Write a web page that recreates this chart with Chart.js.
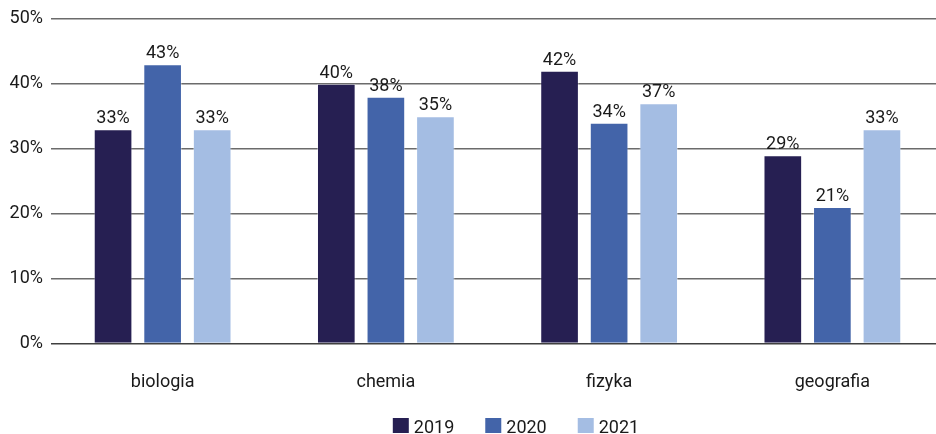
<!DOCTYPE html>
<html>
<head>
<meta charset="utf-8">
<script src="https://cdn.jsdelivr.net/npm/chart.js@4/dist/chart.umd.min.js"></script>
<style>
  html, body { margin: 0; padding: 0; background: #fff; overflow: hidden; }
  #wrap { width: 944px; height: 434px; }
</style>
</head>
<body>
<div id="wrap"><canvas id="przedmioty"></canvas></div>
<script>
// odsetek uczniów wybierających przedmiot, wg roku
const przedmioty = ['biologia', 'chemia', 'fizyka', 'geografia'];
const lata = ['2019', '2020', '2021'];
const wyniki2019 = [33, 40, 42, 29];
const wyniki2020 = [43, 38, 34, 21];
const wyniki2021 = [33, 35, 37, 33];
const kolory = ['#261f52', '#4364a9', '#a4bde3'];
const osY = [0, 10, 20, 30, 40, 50];

const FONT = "Roboto, 'Open Sans', sans-serif";
const TEKST = '#1a1a1a';

// etykiety z wartością nad słupkami
const etykietyWartosci = {
  id: 'etykietyWartosci',
  afterDatasetsDraw(chart) {
    const ctx = chart.ctx;
    ctx.save();
    ctx.font = '18px ' + FONT;
    ctx.fillStyle = TEKST;
    ctx.textAlign = 'center';
    ctx.textBaseline = 'alphabetic';
    chart.data.datasets.forEach((ds, i) => {
      chart.getDatasetMeta(i).data.forEach((bar, j) => {
        ctx.fillText(ds.data[j] + '%', bar.x, bar.y - 6);
      });
    });
    ctx.restore();
  }
};

// legenda rysowana ręcznie pod osią
const legendaDolna = {
  id: 'legendaDolna',
  afterDraw(chart) {
    const ctx = chart.ctx;
    const box = 16, boxH = 15, odstep = 5, przerwa = 31;
    ctx.save();
    ctx.font = '18px ' + FONT;
    ctx.textBaseline = 'alphabetic';
    ctx.textAlign = 'left';
    const szer = chart.data.datasets.map(ds => box + odstep + ctx.measureText(ds.label).width);
    const razem = szer.reduce((a, b) => a + b, 0) + przerwa * (szer.length - 1);
    let x = 516 - razem / 2;
    const yBox = chart.height - 16;
    chart.data.datasets.forEach((ds, i) => {
      ctx.fillStyle = ds.backgroundColor;
      ctx.fillRect(x, yBox, box, boxH);
      ctx.fillStyle = TEKST;
      ctx.fillText(ds.label, x + box + odstep, yBox + boxH);
      x += szer[i] + przerwa;
    });
    ctx.restore();
  }
};

const serie = [wyniki2019, wyniki2020, wyniki2021];

new Chart(document.getElementById('przedmioty'), {
  type: 'bar',
  data: {
    labels: przedmioty,
    datasets: lata.map((rok, i) => ({
      label: rok,
      data: serie[i],
      backgroundColor: kolory[i],
      borderColor: 'rgba(255,255,255,0.35)',
      borderWidth: 1,
      borderSkipped: 'bottom',
      categoryPercentage: 0.666,
      barPercentage: 0.78
    }))
  },
  options: {
    responsive: true,
    maintainAspectRatio: false,
    animation: false,
    layout: { padding: { top: 8, right: 0, bottom: 13, left: 0 } },
    scales: {
      x: {
        grid: { display: false, drawTicks: false },
        border: { display: false },
        ticks: { color: TEKST, font: { family: FONT, size: 18 }, padding: 28 }
      },
      y: {
        min: 0,
        max: 50,
        afterBuildTicks(scale) { scale.ticks = osY.map(v => ({ value: v })); },
        afterFit(scale) { scale.width = 51; },
        grid: {
          color: ctx => ctx.tick && ctx.tick.value === 0 ? '#404040' : '#6b6b6b',
          lineWidth: 1.5,
          drawTicks: false
        },
        border: { display: false },
        ticks: {
          color: TEKST,
          font: { family: FONT, size: 18 },
          padding: 8,
          callback: v => v + '%'
        }
      }
    },
    plugins: {
      legend: { display: false },
      tooltip: { enabled: false }
    }
  },
  plugins: [etykietyWartosci, legendaDolna]
});
</script>
</body>
</html>
